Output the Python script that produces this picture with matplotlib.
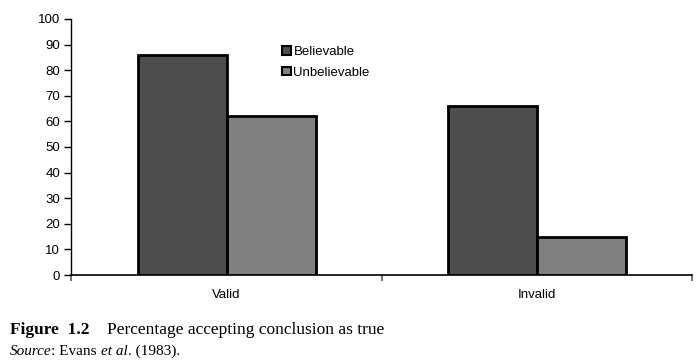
import matplotlib
matplotlib.use("Agg")
import matplotlib.pyplot as plt
import matplotlib.patches as mpatches
import numpy as np

categories = ["Valid", "Invalid"]
series_names = ["Believable", "Unbelievable"]
believable = [86, 66]
unbelievable = [62, 15]
yticks = list(range(0, 101, 10))

DARK, LIGHT = "#4d4d4d", "#808080"

plt.rcParams["font.family"] = ["Liberation Sans", "DejaVu Sans"]

fig = plt.figure(figsize=(7.0, 3.64), dpi=100, facecolor="white")
ax = fig.add_axes([0.102, 0.2445, 0.887, 0.7035])

x = np.arange(len(categories))
w = 0.287
ax.bar(x - w / 2, believable, w, color=DARK, edgecolor="black", linewidth=2, zorder=3)
ax.bar(x + w / 2, unbelievable, w, color=LIGHT, edgecolor="black", linewidth=2, zorder=3)

ax.set_xlim(-0.5, 1.5)
ax.set_ylim(0, 100)
ax.set_yticks(yticks)
ax.tick_params(axis="y", direction="out", length=5, width=1, labelsize=9.5, pad=3)
ax.set_xticks(x)
ax.set_xticklabels(categories, fontsize=9.5)
ax.tick_params(axis="x", length=0, pad=10)
# category boundary ticks
ax.set_xticks([-0.5, 0.5, 1.5], minor=True)
ax.tick_params(axis="x", which="minor", direction="out", length=4, width=1.5, color="#777777")

for s in ["top", "right"]:
    ax.spines[s].set_visible(False)
ax.spines["left"].set_linewidth(1)
ax.spines["bottom"].set_linewidth(1.2)

handles = [mpatches.Patch(facecolor=DARK, edgecolor="black", linewidth=1.5),
           mpatches.Patch(facecolor=LIGHT, edgecolor="black", linewidth=1.5)]
ax.legend(handles, series_names, loc="upper left", bbox_to_anchor=(0.331, 0.915),
          frameon=False, fontsize=9.5, handlelength=0.65, handleheight=0.65,
          handletextpad=0.2, labelspacing=0.65, borderaxespad=0)

# caption, pieces chained left to right
serif = "Liberation Serif"
t = fig.text(0.014, 0.072, "Figure  1.2", fontsize=12.5, family=serif,
             weight="bold", va="bottom")
ax.annotate("Percentage accepting conclusion as true", xy=(1, 0), xycoords=t,
            xytext=(13, 0), textcoords="offset points", fontsize=12.5,
            family=serif, va="bottom", annotation_clip=False)

src = [("Source", "italic"), (": Evans ", "normal"), ("et al", "italic"),
       (". (1983).", "normal")]
prev = fig.text(0.014, 0.016, src[0][0], fontsize=11, family=serif,
                style=src[0][1], va="bottom")
for txt, st in src[1:]:
    prev = ax.annotate(txt, xy=(1, 0), xycoords=prev, xytext=(0, 0),
                       textcoords="offset points", fontsize=11, family=serif,
                       style=st, va="bottom", annotation_clip=False)

fig.savefig("out.png", dpi=100, facecolor="white")
